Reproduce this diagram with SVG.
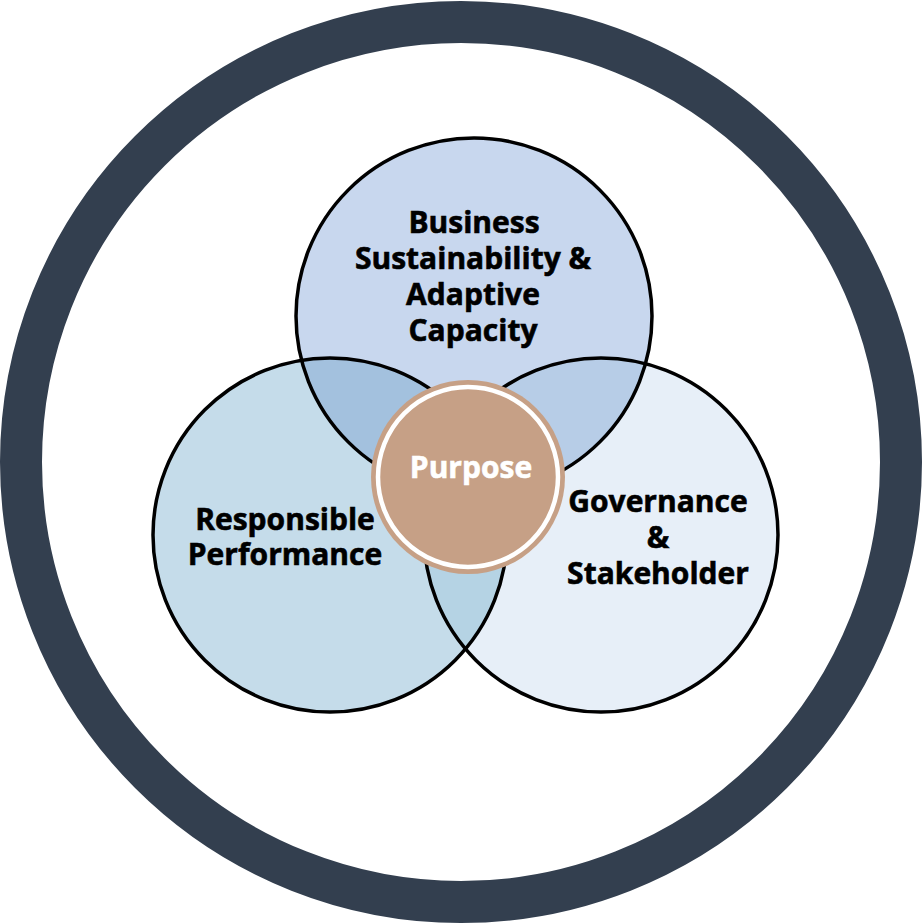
<svg xmlns="http://www.w3.org/2000/svg" width="922" height="924" viewBox="0 0 922 924">
<style>
.lbl{font-family:"Open Sans","Noto Sans","Liberation Sans",sans-serif;font-weight:700;font-size:30px;text-anchor:middle;fill:#000;stroke:#000;stroke-width:0.6px}
.edge{fill:none;stroke:#000;stroke-width:3.5}
</style>
<defs>
<clipPath id="cTop"><circle cx="474" cy="316" r="178"/></clipPath>
<clipPath id="cLeft"><circle cx="330" cy="535" r="177"/></clipPath>
<clipPath id="cRight"><circle cx="601" cy="535" r="177"/></clipPath>
</defs>
<rect width="922" height="924" fill="#fff"/>
<g id="ring"><circle cx="461" cy="462" r="440" fill="none" stroke="#333f4f" stroke-width="42"/></g>
<g id="fills">
<circle cx="474" cy="316" r="178" fill="#c8d7ee"/>
<circle cx="330" cy="535" r="177" fill="#c5dcea"/>
<circle cx="601" cy="535" r="177" fill="#e7eff8"/>
<g clip-path="url(#cTop)"><circle cx="330" cy="535" r="177" fill="#a3c1de"/><circle cx="601" cy="535" r="177" fill="#b7cde7"/></g>
<g clip-path="url(#cLeft)"><circle cx="601" cy="535" r="177" fill="#b5d3e4"/></g>
</g>
<g id="top-node">
<circle class="edge" cx="474" cy="316" r="178"/>
<text class="lbl" x="474" y="233">Business</text>
<text class="lbl" x="473" y="269">Sustainability &amp;</text>
<text class="lbl" x="473" y="305">Adaptive</text>
<text class="lbl" x="473" y="341">Capacity</text>
</g>
<g id="left-node">
<circle class="edge" cx="330" cy="535" r="177"/>
<text class="lbl" x="285" y="530">Responsible</text>
<text class="lbl" x="285" y="565">Performance</text>
</g>
<g id="right-node">
<circle class="edge" cx="601" cy="535" r="177"/>
<text class="lbl" x="658" y="512">Governance</text>
<text class="lbl" x="658" y="548">&amp;</text>
<text class="lbl" x="658" y="584">Stakeholder</text>
</g>
<g id="purpose">
<circle cx="468" cy="477" r="97" fill="#c6a086"/>
<circle cx="468" cy="477" r="90" fill="none" stroke="#fff" stroke-width="4.5"/>
<text class="lbl" x="471" y="478" style="fill:#fff;stroke:#fff">Purpose</text>
</g>
<g id="connectors"/>
</svg>
